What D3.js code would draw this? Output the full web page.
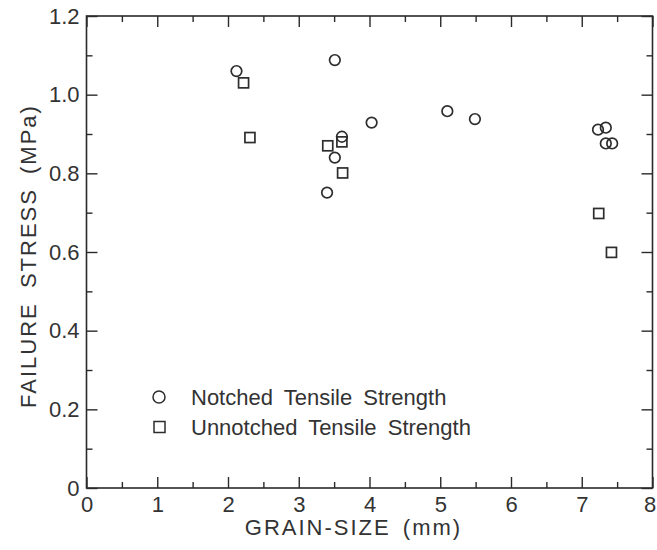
<!DOCTYPE html>
<html>
<head>
<meta charset="utf-8">
<script src="https://cdn.jsdelivr.net/npm/d3@7"></script>
<style>
  html, body { margin: 0; padding: 0; background: #ffffff; }
  svg { display: block; }
  text { font-family: "Liberation Sans", Arial, sans-serif; fill: #333; }
</style>
</head>
<body>
<svg id="chart" width="657" height="550"></svg>
<script>
// Data
const notchedGrain  = [2.12, 3.51, 3.61, 3.51, 3.40, 4.03, 5.10, 5.49, 7.23, 7.34, 7.34, 7.43];
const notchedStress = [1.060, 1.088, 0.893, 0.840, 0.751, 0.929, 0.958, 0.938, 0.911, 0.916, 0.876, 0.876];
const unnotchedGrain  = [2.22, 2.31, 3.41, 3.61, 3.62, 7.24, 7.42];
const unnotchedStress = [1.030, 0.891, 0.870, 0.880, 0.801, 0.698, 0.599];
const xTickValues = [0, 1, 2, 3, 4, 5, 6, 7, 8];
const yTickValues = [0, 0.2, 0.4, 0.6, 0.8, 1.0, 1.2];
const xMinorValues = [0.5, 1.5, 2.5, 3.5, 4.5, 5.5, 6.5, 7.5];
const yMinorValues = [0.1, 0.3, 0.5, 0.7, 0.9, 1.1];
const xTitle = "GRAIN-SIZE (mm)";
const yTitle = "FAILURE STRESS (MPa)";
const legendLabels = ["Notched Tensile Strength", "Unnotched Tensile Strength"];

const svg = d3.select("#chart");
const L = 86.5, R = 652.5, T = 16, B = 488;
const x = d3.scaleLinear().domain([0, 8]).range([L, R]);
const y = d3.scaleLinear().domain([0, 1.2]).range([B, T]);
const ink = "#2a2a2a";

// frame
svg.append("rect").attr("x", L).attr("y", T).attr("width", R - L).attr("height", B - T)
  .attr("fill", "none").attr("stroke", ink).attr("stroke-width", 1.6);

const MAJ = 11, MIN = 6;
function styleAxis(g) {
  g.select(".domain").remove();
  g.selectAll(".tick line").attr("stroke", ink).attr("stroke-width", 1.4);
}
// bottom (ticks inward)
svg.append("g").attr("transform", `translate(0,${B})`)
  .call(d3.axisBottom(x).tickValues(xTickValues).tickSize(-MAJ).tickPadding(8)
    .tickFormat(d => d3.format("d")(d)))
  .call(styleAxis)
  .call(g => g.selectAll(".tick text").attr("font-size", 22).attr("fill", "#333")
    .attr("font-family", "Liberation Sans, Arial, sans-serif")
    .attr("dx", d => d === 8 ? -3 : 0));
svg.append("g").attr("transform", `translate(0,${B})`)
  .call(d3.axisBottom(x).tickValues(xMinorValues).tickSize(-MIN).tickFormat(""))
  .call(styleAxis);
// top
svg.append("g").attr("transform", `translate(0,${T})`)
  .call(d3.axisTop(x).tickValues(xTickValues).tickSize(-MAJ).tickFormat(""))
  .call(styleAxis);
svg.append("g").attr("transform", `translate(0,${T})`)
  .call(d3.axisTop(x).tickValues(xMinorValues).tickSize(-MIN).tickFormat(""))
  .call(styleAxis);
// left
svg.append("g").attr("transform", `translate(${L},0)`)
  .call(d3.axisLeft(y).tickValues(yTickValues).tickSize(-MAJ).tickPadding(7)
    .tickFormat(d => d === 0 ? "0" : d3.format(".1f")(d)))
  .call(styleAxis)
  .call(g => g.selectAll(".tick text").attr("font-size", 22).attr("fill", "#333")
    .attr("font-family", "Liberation Sans, Arial, sans-serif"));
svg.append("g").attr("transform", `translate(${L},0)`)
  .call(d3.axisLeft(y).tickValues(yMinorValues).tickSize(-MIN).tickFormat(""))
  .call(styleAxis);
// right
svg.append("g").attr("transform", `translate(${R},0)`)
  .call(d3.axisRight(y).tickValues(yTickValues).tickSize(-MAJ).tickFormat(""))
  .call(styleAxis);
svg.append("g").attr("transform", `translate(${R},0)`)
  .call(d3.axisRight(y).tickValues(yMinorValues).tickSize(-MIN).tickFormat(""))
  .call(styleAxis);

// titles
svg.append("text").attr("x", (L + R) / 2 - 16).attr("y", 535)
  .attr("text-anchor", "middle").attr("font-size", 22)
  .attr("letter-spacing", 2).attr("word-spacing", 4).text(xTitle);
svg.append("text").attr("transform", `translate(36,${(T + B) / 2 + 4}) rotate(-90)`)
  .attr("text-anchor", "middle").attr("font-size", 22)
  .attr("letter-spacing", 2).attr("word-spacing", 6).text(yTitle);

// markers
const markStroke = "#2d2d2d";
const notched = notchedGrain.map((g, i) => ({ g, s: notchedStress[i] }));
const unnotched = unnotchedGrain.map((g, i) => ({ g, s: unnotchedStress[i] }));
svg.append("g").selectAll("rect").data(unnotched).join("rect")
  .attr("x", d => x(d.g) - 5).attr("y", d => y(d.s) - 5)
  .attr("width", 10).attr("height", 10)
  .attr("fill", "none").attr("stroke", markStroke).attr("stroke-width", 1.7);
svg.append("g").selectAll("circle").data(notched).join("circle")
  .attr("cx", d => x(d.g)).attr("cy", d => y(d.s)).attr("r", 5.3)
  .attr("fill", "none").attr("stroke", markStroke).attr("stroke-width", 1.7);

// legend
const lg = svg.append("g");
lg.append("circle").attr("cx", 159).attr("cy", 397).attr("r", 6)
  .attr("fill", "none").attr("stroke", markStroke).attr("stroke-width", 1.5);
lg.append("rect").attr("x", 154).attr("y", 421.5).attr("width", 11).attr("height", 11)
  .attr("fill", "none").attr("stroke", markStroke).attr("stroke-width", 1.5);
lg.append("text").attr("x", 191).attr("y", 405).attr("font-size", 22)
  .attr("word-spacing", 5).text(legendLabels[0]);
lg.append("text").attr("x", 191).attr("y", 435).attr("font-size", 22)
  .attr("word-spacing", 5).text(legendLabels[1]);
</script>
</body>
</html>
